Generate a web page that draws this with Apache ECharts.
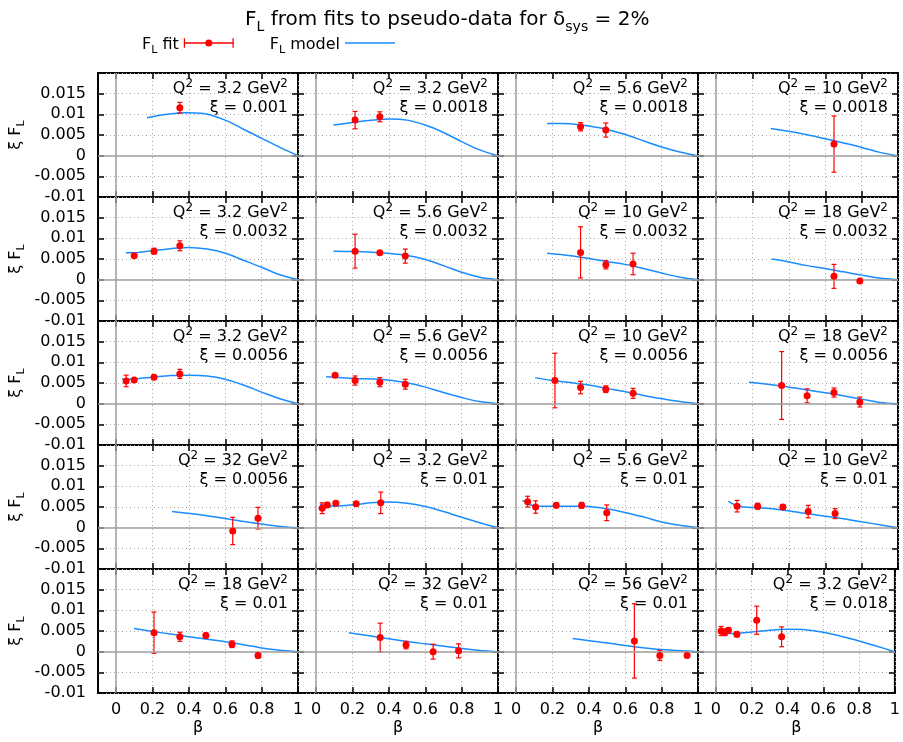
<!DOCTYPE html>
<html><head><meta charset="utf-8">
<script src="https://cdn.jsdelivr.net/npm/echarts@6/dist/echarts.min.js"></script>
<style>html,body{margin:0;padding:0;background:#fff}#chart{width:903px;height:742px}</style>
</head><body><div id="chart"></div>
<script>
// ---------- data ----------
const q2Labels = ['3.2','3.2','5.6','10','3.2','5.6','10','18','3.2','5.6','10','18','32','3.2','5.6','10','18','32','56','3.2'];
const xiLabels = ['0.001','0.0018','0.0018','0.0018','0.0032','0.0032','0.0032','0.0032','0.0056','0.0056','0.0056','0.0056','0.0056','0.01','0.01','0.01','0.01','0.01','0.01','0.018'];
const xTickValues = [0, 0.2, 0.4, 0.6, 0.8, 1];
const xTickLabels = ['0', '0.2', '0.4', '0.6', '0.8', '1'];
const yTickValues = [-0.01, -0.005, 0, 0.005, 0.01, 0.015];
const yTickLabels = ['-0.01', '-0.005', '0', '0.005', '0.01', '0.015'];

// model curves [beta, xi*F_L]
const model_0 = [[0.17,0.0092],[0.28,0.0100],[0.38,0.0104],[0.48,0.0102],[0.6,0.0086],[0.7,0.0064],[0.8,0.0042],[0.9,0.0020],[1.0,0]];
const model_1 = [[0.095,0.0074],[0.21,0.0081],[0.315,0.0086],[0.405,0.0089],[0.5,0.0086],[0.6,0.0074],[0.7,0.0056],[0.8,0.0034],[0.9,0.0014],[1.0,0]];
const model_2 = [[0.17,0.0078],[0.25,0.0078],[0.35,0.0075],[0.45,0.0068],[0.5,0.0063],[0.6,0.0051],[0.7,0.0036],[0.8,0.0021],[0.9,0.0009],[1.0,0]];
const model_3 = [[0.30,0.0066],[0.44,0.0056],[0.55,0.0046],[0.65,0.0036],[0.8,0.0020],[0.9,0.0008],[1.0,0]];
const model_4 = [[0.053,0.0065],[0.12,0.0066],[0.2,0.0070],[0.3,0.0075],[0.4,0.0078],[0.5,0.0074],[0.6,0.0064],[0.7,0.0047],[0.8,0.0030],[0.9,0.0012],[1.0,0]];
const model_5 = [[0.095,0.0069],[0.21,0.0068],[0.35,0.0065],[0.49,0.0059],[0.59,0.0050],[0.7,0.0034],[0.8,0.0018],[0.9,0.0006],[1.0,0]];
const model_6 = [[0.17,0.0064],[0.3,0.0058],[0.4,0.0051],[0.5,0.0044],[0.6,0.0037],[0.7,0.0027],[0.8,0.0016],[0.9,0.0006],[1.0,0]];
const model_7 = [[0.305,0.0050],[0.4,0.0043],[0.5,0.0034],[0.6,0.0027],[0.7,0.0019],[0.8,0.0011],[0.9,0.0004],[1.0,0]];
const model_8 = [[0.031,0.0059],[0.1,0.0060],[0.2,0.0064],[0.3,0.0068],[0.4,0.0069],[0.5,0.0067],[0.6,0.0059],[0.7,0.0045],[0.8,0.0028],[0.9,0.0012],[1.0,0]];
const model_9 = [[0.055,0.0065],[0.21,0.0061],[0.35,0.0059],[0.49,0.0051],[0.6,0.0040],[0.7,0.0027],[0.8,0.0015],[0.9,0.0005],[1.0,0]];
const model_10 = [[0.104,0.0063],[0.2,0.0056],[0.3,0.0051],[0.4,0.0045],[0.5,0.0037],[0.6,0.0029],[0.7,0.0020],[0.8,0.0012],[0.9,0.0005],[1.0,0]];
const model_11 = [[0.18,0.0052],[0.36,0.0043],[0.5,0.0033],[0.65,0.0023],[0.8,0.0011],[0.9,0.0003],[1.0,0]];
const model_12 = [[0.307,0.0039],[0.5,0.0029],[0.64,0.0019],[0.78,0.0010],[0.9,0.0003],[1.0,0]];
const model_13 = [[0.02,0.0056],[0.1,0.0052],[0.22,0.0056],[0.3,0.0060],[0.39,0.0062],[0.5,0.0059],[0.6,0.0051],[0.7,0.0039],[0.8,0.0025],[0.9,0.0012],[1.0,0]];
const model_14 = [[0.034,0.0066],[0.11,0.0052],[0.25,0.0052],[0.37,0.0052],[0.52,0.0044],[0.68,0.0028],[0.84,0.0010],[1.0,0]];
const model_15 = [[0.067,0.0064],[0.124,0.0052],[0.31,0.0046],[0.5,0.0034],[0.65,0.0025],[0.79,0.0015],[0.9,0.0007],[1.0,0]];
const model_16 = [[0.098,0.0056],[0.2,0.0049],[0.31,0.0042],[0.45,0.0033],[0.63,0.0022],[0.75,0.0013],[0.85,0.0006],[1.0,0]];
const model_17 = [[0.18,0.0046],[0.3,0.0038],[0.48,0.0026],[0.6,0.0019],[0.76,0.0010],[0.9,0.0003],[1.0,0]];
const model_18 = [[0.31,0.0032],[0.5,0.0021],[0.65,0.0012],[0.8,0.0005],[1.0,0]];
const model_19 = [[0.022,0.0052],[0.076,0.0044],[0.19,0.0047],[0.3,0.0052],[0.41,0.0054],[0.5,0.0053],[0.6,0.0047],[0.7,0.0037],[0.8,0.0026],[0.9,0.0013],[1.0,0]];

// fitted pseudo-data [beta, value, error]
const fit_0 = [[0.35,0.0116,0.0013]];
const fit_1 = [[0.214,0.0086,0.0021],[0.35,0.0094,0.0012]];
const fit_2 = [[0.354,0.0070,0.0010],[0.493,0.0062,0.0017]];
const fit_3 = [[0.648,0.0028,0.0068]];
const fit_4 = [[0.099,0.0058,0.0003],[0.208,0.0069,0.0007],[0.35,0.0082,0.0012]];
const fit_5 = [[0.214,0.0069,0.0041],[0.35,0.0065,0.0003],[0.49,0.0057,0.0017]];
const fit_6 = [[0.354,0.0066,0.0062],[0.493,0.0036,0.0010],[0.643,0.0038,0.0026]];
const fit_7 = [[0.648,0.0008,0.0029],[0.79,-0.0003,0.0004]];
const fit_8 = [[0.055,0.0055,0.0014],[0.099,0.0057,0.0004],[0.208,0.0064,0.0005],[0.35,0.0072,0.0011]];
const fit_9 = [[0.104,0.0069,0.0003],[0.214,0.0056,0.0011],[0.35,0.0052,0.0011],[0.49,0.0047,0.0012]];
const fit_10 = [[0.213,0.0056,0.0066],[0.354,0.0039,0.0015],[0.493,0.0035,0.0008],[0.643,0.0025,0.0012]];
const fit_11 = [[0.36,0.0044,0.0082],[0.50,0.0019,0.0017],[0.648,0.0027,0.0011],[0.79,0.0004,0.0012]];
const fit_12 = [[0.641,-0.0008,0.0033],[0.78,0.0023,0.0026]];
const fit_13 = [[0.033,0.0047,0.0013],[0.061,0.0055,0.0006],[0.108,0.0059,0.0005],[0.22,0.0058,0.0005],[0.355,0.0060,0.0026]];
const fit_14 = [[0.063,0.0063,0.0013],[0.107,0.0050,0.0015],[0.22,0.0054,0.0006],[0.36,0.0054,0.0007],[0.498,0.0036,0.0019]];
const fit_15 = [[0.115,0.0052,0.0014],[0.228,0.0052,0.0007],[0.367,0.0050,0.0005],[0.506,0.0039,0.0015],[0.654,0.0034,0.0012]];
const fit_16 = [[0.208,0.0046,0.0050],[0.35,0.0036,0.0011],[0.493,0.0039,0.0006],[0.637,0.0018,0.0008],[0.78,-0.0009,0.0006]];
const fit_17 = [[0.352,0.0034,0.0035],[0.494,0.0016,0.0009],[0.643,0.0000,0.0018],[0.783,0.0002,0.0017]];
const fit_18 = [[0.65,0.0026,0.0090],[0.79,-0.0009,0.0012],[0.94,-0.0009,0.0004]];
const fit_19 = [[0.029,0.0050,0.0011],[0.051,0.0047,0.0008],[0.07,0.0052,0.0006],[0.117,0.0042,0.0006],[0.228,0.0076,0.0034],[0.367,0.0036,0.0024]];

const models = [model_0,model_1,model_2,model_3,model_4,model_5,model_6,model_7,model_8,model_9,model_10,model_11,model_12,model_13,model_14,model_15,model_16,model_17,model_18,model_19];
const fits = [fit_0,fit_1,fit_2,fit_3,fit_4,fit_5,fit_6,fit_7,fit_8,fit_9,fit_10,fit_11,fit_12,fit_13,fit_14,fit_15,fit_16,fit_17,fit_18,fit_19];

// ---------- style / layout ----------
const FONT = 'DejaVu Sans';
const RED = '#ff0000';
const BLUE = '#1a8cff';
const NCOL = 4, NROW = 5;
const LEFT0 = 98, TOP0 = 73, PW = 200, PH = 124;

const chart = echarts.init(document.getElementById('chart'), null, {renderer: 'canvas'});

const grids = [], xAxes = [], yAxes = [], series = [], graphics = [];
const subRich = {
  n: {fontSize: 16, fontFamily: FONT, color: '#000', lineHeight: 20, verticalAlign: 'bottom'},
  s: {fontSize: 11, fontFamily: FONT, color: '#000', lineHeight: 12, verticalAlign: 'bottom', padding: [0, 0, -3, 0]}
};
const supRich = {
  n: {fontSize: 16, fontFamily: FONT, fill: '#000', color: '#000', lineHeight: 20, verticalAlign: 'top'},
  p: {fontSize: 12, fontFamily: FONT, fill: '#000', color: '#000', lineHeight: 12, verticalAlign: 'top', padding: [-3, 0, 0, 0]}
};

function renderErr(params, api) {
  const x = api.value(0), lo = api.value(1), hi = api.value(2);
  const p1 = api.coord([x, lo]), p2 = api.coord([x, hi]);
  const w = 2.5;
  const st = {stroke: RED, lineWidth: 1.2};
  return {type: 'group', children: [
    {type: 'line', shape: {x1: p1[0], y1: p1[1], x2: p2[0], y2: p2[1]}, style: st},
    {type: 'line', shape: {x1: p1[0]-w, y1: p1[1], x2: p1[0]+w, y2: p1[1]}, style: st},
    {type: 'line', shape: {x1: p2[0]-w, y1: p2[1], x2: p2[0]+w, y2: p2[1]}, style: st}
  ]};
}

for (let i = 0; i < NCOL * NROW; i++) {
  const r = Math.floor(i / NCOL), c = i % NCOL;
  const left = LEFT0 + PW * c, top = TOP0 + PH * r;
  grids.push({left: left, top: top, width: PW, height: PH, show: true,
    borderColor: '#000', borderWidth: 2, backgroundColor: 'transparent', containLabel: false});
  const isBottom = r === NROW - 1, isLeft = c === 0;
  const tickStyle = {show: true, inside: true, length: 6, lineStyle: {color: '#000', width: 1.5}};
  const noLine = {show: false, onZero: false};
  xAxes.push({
    gridIndex: i, type: 'value', min: -0.1, max: 1.0, position: 'bottom',
    axisLine: noLine,
    axisTick: Object.assign({customValues: xTickValues}, tickStyle),
    axisLabel: {show: isBottom, customValues: xTickValues, margin: 9, fontSize: 16, fontFamily: FONT, color: '#000',
      formatter: v => { const k = xTickValues.findIndex(t => Math.abs(t - v) < 1e-9); return k >= 0 ? xTickLabels[k] : ''; }},
    splitLine: {show: true, lineStyle: {color: '#a8a8a8', width: 1, type: [1, 3]}},
    name: isBottom ? 'β' : '', nameLocation: 'middle', nameGap: 27,
    nameTextStyle: {fontSize: 16, fontFamily: FONT, color: '#000'}
  });
  xAxes.push({
    gridIndex: i, type: 'value', min: -0.1, max: 1.0, position: 'top',
    axisLine: noLine,
    axisTick: Object.assign({customValues: xTickValues}, tickStyle),
    axisLabel: {show: false}, splitLine: {show: false}
  });
  yAxes.push({
    gridIndex: i, type: 'value', min: -0.01, max: 0.02, interval: 0.005, position: 'left',
    axisLine: noLine,
    axisTick: tickStyle,
    axisLabel: {show: isLeft, customValues: yTickValues, margin: 12, fontSize: 16, fontFamily: FONT, color: '#000',
      formatter: v => { const k = yTickValues.findIndex(t => Math.abs(t - v) < 1e-9); return k >= 0 ? yTickLabels[k] : ''; }},
    splitLine: {show: true, lineStyle: {color: '#a8a8a8', width: 1, type: [1, 3]}},
    name: isLeft ? '{n|ξ F}{s|L}' : '', nameLocation: 'middle', nameGap: 74, nameRotate: 90,
    nameTextStyle: {rich: subRich}
  });
  yAxes.push({
    gridIndex: i, type: 'value', min: -0.01, max: 0.02, interval: 0.005, position: 'right',
    axisLine: noLine, axisTick: tickStyle, axisLabel: {show: false}, splitLine: {show: false}
  });

  // zero axes (gray)
  series.push({
    type: 'line', name: 'zero', xAxisIndex: 2*i, yAxisIndex: 2*i, data: models[i],
    showSymbol: false, silent: true, z: 1, lineStyle: {opacity: 0}, itemStyle: {opacity: 0},
    markLine: {silent: true, symbol: ['none', 'none'], label: {show: false}, animation: false,
      lineStyle: {color: '#a0a0a0', width: 1.5, type: 'solid'},
      data: [{yAxis: 0}, {xAxis: 0}]}
  });
  series.push({
    type: 'line', name: 'F_L model', xAxisIndex: 2*i, yAxisIndex: 2*i, data: models[i],
    showSymbol: false, smooth: 0.35, z: 3,
    lineStyle: {color: BLUE, width: 1.5}, itemStyle: {color: BLUE}
  });
  series.push({
    type: 'custom', name: 'F_L fit err', xAxisIndex: 2*i, yAxisIndex: 2*i, z: 4,
    renderItem: renderErr, encode: {x: 0, y: [1, 2]},
    data: fits[i].map(d => [d[0], d[1] - d[2], d[1] + d[2]])
  });
  series.push({
    type: 'scatter', name: 'F_L fit', xAxisIndex: 2*i, yAxisIndex: 2*i, z: 5,
    symbol: 'circle', symbolSize: 7, itemStyle: {color: RED, opacity: 1},
    data: fits[i].map(d => [d[0], d[1]])
  });

  graphics.push({type: 'text', x: left + PW - 10, y: top + 8, z: 100,
    style: {text: '{n|Q}{p|2}{n| = ' + q2Labels[i] + ' GeV}{p|2}', rich: supRich, fill: '#000',
      fontSize: 16, fontFamily: FONT,
      align: 'right', verticalAlign: 'top', textAlign: 'right', textVerticalAlign: 'top'}});
  graphics.push({type: 'text', x: left + PW - 10, y: top + 35, z: 100,
    style: {text: 'ξ = ' + xiLabels[i], fontSize: 16, fontFamily: FONT, fill: '#000',
      align: 'right', verticalAlign: 'middle', textAlign: 'right', textVerticalAlign: 'middle'}});
}

const legendRich = {
  n: {fontSize: 16, fontFamily: FONT, color: '#000', lineHeight: 20, verticalAlign: 'bottom'},
  s: {fontSize: 11, fontFamily: FONT, color: '#000', lineHeight: 12, verticalAlign: 'bottom', padding: [0, 0, -3, 0]}
};

const option = {
  animation: false,
  backgroundColor: '#fff',
  title: {
    text: '{n|F}{s|L}{n| from fits to pseudo-data for δ}{s|sys}{n| = 2%}',
    left: 240, top: 1,
    textStyle: {fontWeight: 'normal', rich: {
      n: {fontSize: 20, fontWeight: 'normal', fontFamily: FONT, color: '#000', lineHeight: 24, verticalAlign: 'bottom'},
      s: {fontSize: 14, fontWeight: 'normal', fontFamily: FONT, color: '#000', lineHeight: 14, verticalAlign: 'bottom', padding: [0, 0, -4, 0]}
    }}
  },
  legend: {
    left: 137, top: 32, align: 'right', itemGap: 36, itemWidth: 50, itemHeight: 9.4,
    data: [
      {name: 'F_L fit', icon: 'path://M0,4 L50,4 L50,5.4 L0,5.4 Z M0,0 L1.3,0 L1.3,9.4 L0,9.4 Z M48.7,0 L50,0 L50,9.4 L48.7,9.4 Z M21.5,4.7 A3.5,3.5 0 1 1 28.5,4.7 A3.5,3.5 0 1 1 21.5,4.7 Z'},
      {name: 'F_L model', icon: 'path://M0,4 L50,4 L50,5.5 L0,5.5 Z M0,0 L0.01,0 L0.01,9.4 L0,9.4 Z'}
    ],
    formatter: name => name === 'F_L fit' ? '{n|F}{s|L}{n| fit}' : '{n|F}{s|L}{n| model}',
    textStyle: {rich: legendRich}
  },
  grid: grids, xAxis: xAxes, yAxis: yAxes, series: series, graphic: graphics
};
chart.setOption(option);
</script></body></html>
